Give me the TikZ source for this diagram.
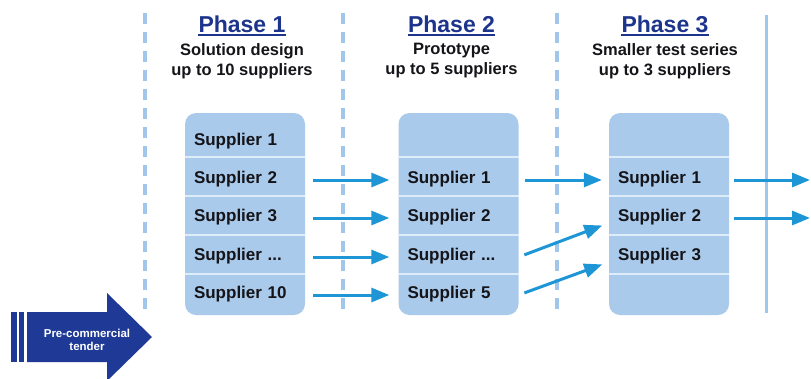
\documentclass[tikz,border=0pt]{standalone}
\usepackage{fontspec}
\setmainfont{Liberation Sans}
\usetikzlibrary{arrows.meta}
\definecolor{boxblue}{RGB}{170,202,236}
\definecolor{sepwhite}{RGB}{222,236,250}
\definecolor{arrowblue}{RGB}{30,150,214}
\definecolor{lineblue}{RGB}{160,198,235}
\definecolor{titleblue}{RGB}{28,52,140}
\definecolor{tenderblue}{RGB}{30,58,150}
\definecolor{txt}{RGB}{20,20,25}
\tikzstyle{phasebox}=[rectangle,rounded corners=11pt,fill=boxblue,minimum width=120pt,minimum height=202pt,inner sep=0pt]
\tikzstyle{supplier}=[text width=102pt,inner sep=9pt,align=left,text height=12pt,text depth=6pt,text=txt,font=\bfseries\fontsize{17}{20}\selectfont]
\tikzstyle{sep}=[draw=sepwhite,line width=2pt]
\tikzstyle{flow}=[-{Triangle[length=18pt,width=14pt]},line width=3pt,draw=arrowblue,fill=arrowblue]
\tikzstyle{phaseline}=[draw=lineblue,line width=3.5pt,dash pattern=on 11pt off 8pt]
\tikzstyle{endline}=[draw=lineblue,line width=3pt]
\tikzstyle{title}=[anchor=base,inner sep=0pt,text=titleblue,font=\bfseries\fontsize{23}{26}\selectfont]
\tikzstyle{uline}=[draw=titleblue,line width=2pt]
\tikzstyle{goal}=[inner sep=0pt,align=center,text=txt,font=\bfseries\fontsize{16.5}{20}\selectfont]
\tikzstyle{tendertext}=[inner sep=0pt,align=center,text=white,font=\bfseries\fontsize{11.5}{13}\selectfont]

\begin{document}
\begin{tikzpicture}[x=1pt,y=-1pt]
  \useasboundingbox (0,0) rectangle (811,378);

  % phase borders
  \draw [phaseline] (145,13) -- (145,313);
  \draw [phaseline] (343,13) -- (343,313);
  \draw [phaseline] (557,13) -- (557,313);
  \draw [endline] (766,15) -- (766,313);

  % headings
  \node (p1) at (242,32) [title] {Phase 1};
  \node (p2) at (451.5,32) [title] {Phase 2};
  \node (p3) at (665,32) [title] {Phase 3};
  \foreach \p in {p1,p2,p3}
    \draw [uline] ([yshift=-2.5pt]\p.base west) -- ([yshift=-2.5pt]\p.base east);
  \node (g1) at (242,61) [goal] {Solution design\\up to 10 suppliers};
  \node (g2) at (451.5,61) [goal] {Prototype\\up to 5 suppliers};
  \node (g3) at (665,61) [goal] {Smaller test series\\up to 3 suppliers};

  % supplier boxes
  \node (box1) at (245,214) [phasebox] {};
  \node (box2) at (458.5,214) [phasebox] {};
  \node (box3) at (669,214) [phasebox] {};
  \foreach \x in {245,458.5,669}
    \foreach \y in {157,196,235,274}
      \draw [sep] (\x-60,\y) -- (\x+60,\y);

  \node (a1) at (245,142) [supplier] {Supplier 1};
  \node (a2) at (245,180) [supplier] {Supplier 2};
  \node (a3) at (245,218) [supplier] {Supplier 3};
  \node (a4) at (245,257) [supplier] {Supplier ...};
  \node (a5) at (245,295) [supplier] {Supplier 10};

  \node (b1) at (458.5,180) [supplier] {Supplier 1};
  \node (b2) at (458.5,218) [supplier] {Supplier 2};
  \node (b3) at (458.5,257) [supplier] {Supplier ...};
  \node (b4) at (458.5,295) [supplier] {Supplier 5};

  \node (c1) at (669,180) [supplier] {Supplier 1};
  \node (c2) at (669,218) [supplier] {Supplier 2};
  \node (c3) at (669,257) [supplier] {Supplier 3};

  \coordinate (out1) at (810,180);
  \coordinate (out2) at (810,218);

  % selection
  \draw [flow,shorten <=8pt,shorten >=9pt] (a2.east) -- (b1.west);
  \draw [flow,shorten <=8pt,shorten >=9pt] (a3.east) -- (b2.west);
  \draw [flow,shorten <=8pt,shorten >=9pt] (a4.east) -- (b3.west);
  \draw [flow,shorten <=8pt,shorten >=9pt] (a5.east) -- (b4.west);
  \draw [flow,shorten <=6pt,shorten >=7pt] (b1.east) -- (c1.west);
  \draw [flow,shorten <=6pt,shorten >=7pt] (b3.east) -- ([yshift=-5pt]c2.west);
  \draw [flow,shorten <=6pt,shorten >=7pt] (b4.east) -- ([yshift=-5pt]c3.west);
  \draw [flow,shorten <=5pt] (c1.east) -- (out1);
  \draw [flow,shorten <=5pt] (c2.east) -- (out2);

  % pre-commercial tender
  \fill [tenderblue] (11,312) rectangle (17,362);
  \fill [tenderblue] (19,312) rectangle (24,362);
  \fill [tenderblue] (27,312) -- (107,312) -- (107,293) -- (152,337)
    -- (107,381) -- (107,362) -- (27,362) -- cycle;
  \node (tender) at (87,339.5) [tendertext] {Pre-commercial\\tender};
\end{tikzpicture}
\end{document}
